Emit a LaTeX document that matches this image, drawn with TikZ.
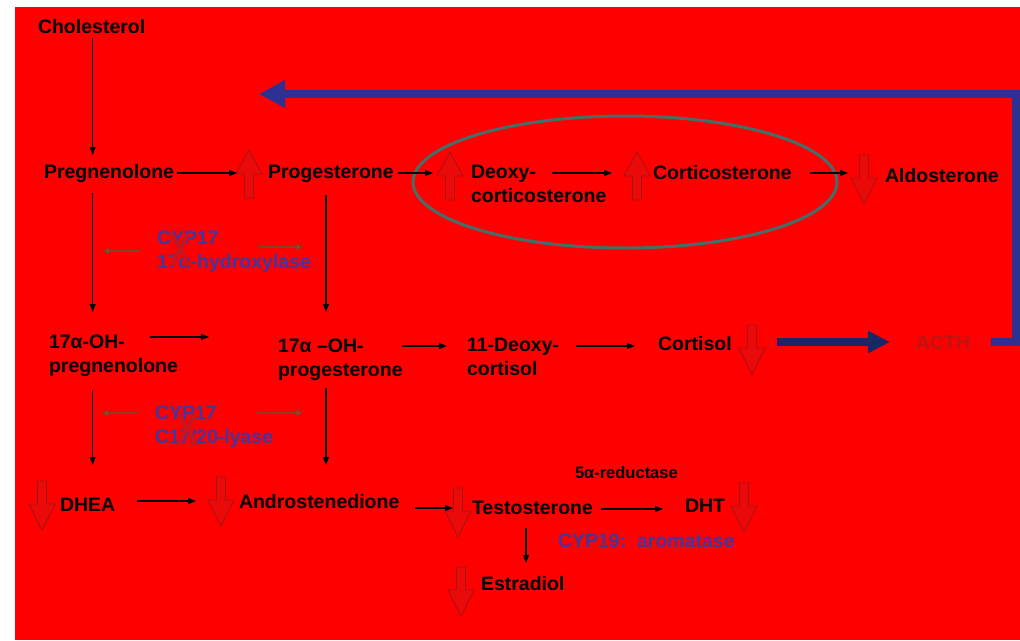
\documentclass[tikz,border=0pt]{standalone}
\usepackage{fontspec}
\setmainfont{Liberation Sans}
\usetikzlibrary{arrows.meta,calc}
\definecolor{bgred}{RGB}{255,0,0}
\definecolor{blkfill}{RGB}{235,10,10}
\definecolor{blkline}{RGB}{165,20,20}
\definecolor{enzblue}{RGB}{65,55,160}
\definecolor{fbblue}{RGB}{46,49,146}
\definecolor{navy}{RGB}{25,40,100}
\definecolor{brnline}{RGB}{130,65,40}
\definecolor{brnhead}{RGB}{210,125,45}
\definecolor{ellcol}{RGB}{70,110,105}
\definecolor{xred}{RGB}{200,20,30}
\definecolor{acthred}{RGB}{190,20,20}
\tikzset{
  lbl/.style={anchor=base west, inner sep=0pt, outer sep=0pt, align=left,
    font=\fontsize{19.5}{23.5}\selectfont\bfseries},
  enz/.style={lbl, text=enzblue},
  blk/.style={line width=1.2pt, -{Triangle[length=8pt,width=6pt]}},
  brn/.style={draw=brnline, line width=1.6pt, -{Triangle[length=7pt,width=6.5pt,fill=brnhead]}},
  blockarr/.style={fill=blkfill, draw=blkline, line width=0.8pt},
  uparr/.pic={\path[blockarr] (0,0) -- (13,24) -- (4.5,24) -- (4.5,48) -- (-4.5,48) -- (-4.5,24) -- (-13,24) -- cycle;},
  downarr/.pic={\path[blockarr] (-4.5,0) -- (4.5,0) -- (4.5,23) -- (13,23) -- (0,49) -- (-13,23) -- (-4.5,23) -- cycle;},
  xmark/.style={inner sep=0pt, text=xred, yscale=1.4, font=\fontsize{33}{33}\selectfont\bfseries},
}
\begin{document}
\begin{tikzpicture}[x=1pt,y=-1pt]
\useasboundingbox (0,0) rectangle (1020,640);
\fill[white] (0,0) rectangle (1020,640);
\fill[bgred] (15,7) rectangle (1020,640);

% ellipse
\draw[ellcol, line width=3pt] (625,182) ellipse [x radius=212, y radius=66];

% block arrows
\pic at (249,150) {uparr};
\pic at (450,152) {uparr};
\pic at (637,152) {uparr};
\pic at (864,155) {downarr};
\pic at (752,325) {downarr};
\pic at (42,481) {downarr};
\pic at (221,477) {downarr};
\pic at (458,488) {downarr};
\pic at (744,483) {downarr};
\pic at (461,567) {downarr};

% labels
\node[lbl] (chol) at (38,33) {Cholesterol};
\node[lbl] (preg) at (44,178) {Pregnenolone};
\node[lbl] (prog) at (268,178) {Progesterone};
\node[lbl] (doc) at (471,202) {Deoxy-\\corticosterone};
\node[lbl] (cort) at (653,179) {Corticosterone};
\node[lbl] (aldo) at (885,182) {Aldosterone};
\node[lbl] (ohpreg) at (49,372) {17α-OH-\\pregnenolone};
\node[lbl] (ohprog) at (278,376) {17α –OH-\\progesterone};
\node[lbl] (dcort) at (467,375) {11-Deoxy-\\cortisol};
\node[lbl] (cortisol) at (658,350) {Cortisol};
\node[lbl, text=acthred] (acth) at (916,349) {ACTH};
\node[lbl] (dhea) at (60,511) {DHEA};
\node[lbl] (andro) at (239,508) {Androstenedione};
\node[lbl] (testo) at (472,514) {Testosterone};
\node[lbl] (dht) at (685,512) {DHT};
\node[lbl] (estr) at (481,590) {Estradiol};
\node[lbl, font=\fontsize{16.5}{20}\selectfont\bfseries] (red5) at (575,478) {5α-reductase};
\node[enz] (arom) at (558,547) {CYP19:\ \ aromatase};
\node[enz] (hyd) at (157,268) {CYP17\\17α-hydroxylase};
\node[enz] (lya) at (155,443) {CYP17\\C17/20-lyase};

% X marks
\node[xmark] (x1) at (181,251) {X};
\node[xmark] (x2) at (188,430) {X};

% black arrows
\draw[blk] ($(chol.base)+(1,5)$) -- ($(chol.base |- preg.base)+(1,-23)$);
\draw[blk] ($(preg.base east)+(3,-5)$) -- ($(prog.base west)+(-31,-5)$);
\draw[blk] ($(prog.base east)+(4,-5)$) -- ($(prog.base east -| doc.west)+(-38,-5)$);
\draw[blk] ($(cort.base -| doc.west)+(81,-6)$) -- ($(cort.base west)+(-41,-6)$);
\draw[blk] ($(cort.base east)+(18,-6)$) -- ($(cort.base east -| aldo.west)+(-37,-6)$);
\draw[blk] ($(chol.base |- preg.base)+(1,15)$) -- ($(chol.base |- ohpreg.base)+(1,-60)$);
\draw[blk] ($(prog.base west)+(58,17)$) -- ($(prog.base west |- ohprog.base)+(58,-64)$);
\draw[blk] ($(ohpreg.base west)+(101,-35)$) -- ($(ohpreg.base west -| ohprog.west)+(-69,-35)$);
\draw[blk] ($(dcort.base -| ohprog.east)+(-1,-29)$) -- ($(dcort.base west)+(-20,-29)$);
\draw[blk] ($(dcort.base east)+(17,-29)$) -- ($(dcort.base -| cortisol.west)+(-23,-29)$);
\draw[blk] ($(chol.base |- ohpreg.base)+(1,18)$) -- ($(chol.base |- dhea.base)+(1,-46)$);
\draw[blk] ($(prog.base west |- ohprog.base)+(58,12)$) -- ($(prog.base west |- andro.base)+(58,-43)$);
\draw[blk] ($(dhea.base east)+(22,-10)$) -- ($(dhea.base -| andro.west)+(-43,-10)$);
\draw[blk] ($(testo.base -| andro.east)+(16,-6)$) -- ($(testo.base west)+(-19,-6)$);
\draw[blk] ($(testo.base east)+(8,-5)$) -- ($(testo.base -| dht.west)+(-22,-5)$);
\draw[blk] ($(testo.base west)+(54,14)$) -- ($(testo.base west |- estr.base)+(54,-27)$);

% enzyme side arrows
\draw[brn] ($(hyd.base west)+(-17,-17)$) -- ($(chol.base |- hyd.base)+(11,-17)$);
\draw[brn] ($(hyd.base west)+(101,-21)$) -- ($(prog.base west |- hyd.base)+(35,-21)$);
\draw[brn] ($(lya.base west)+(-17,-30)$) -- ($(chol.base |- lya.base)+(10,-30)$);
\draw[brn] ($(lya.base west)+(102,-30)$) -- ($(prog.base west |- lya.base)+(35,-30)$);

% cortisol -> ACTH
\draw[navy, line width=8pt, -{Triangle[length=22pt,width=21pt]}]
  ($(cortisol.base east)+(45,-8)$) -- ($(cortisol.base -| acth.west)+(-26,-8)$);

% feedback bracket
\coordinate (fbcorner) at (1016,94);
\coordinate (fbtip) at (259,94);
\draw[fbblue, line width=8pt, miter limit=10, line join=miter, -{Triangle[length=26pt,width=26pt]}]
  ($(acth.base east)+(21,-7)$) -| (fbcorner) -- (fbtip);
\end{tikzpicture}
\end{document}
